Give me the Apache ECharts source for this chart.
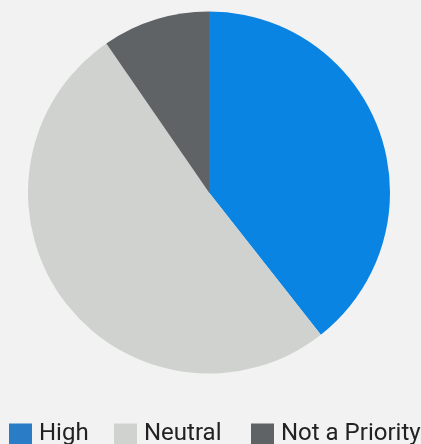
<!DOCTYPE html>
<html>
<head>
<meta charset="utf-8">
<style>
	html, body { margin: 0; padding: 0; background: #f2f2f2; }
	#chart { width: 421px; height: 444px; }
</style>
<script src="https://cdn.jsdelivr.net/npm/echarts@6/dist/echarts.min.js"></script>
</head>
<body>
<div id="chart"></div>
<script>
var categories = ['High', 'Neutral', 'Not a Priority'];
var values = [39.4, 51.0, 9.6];
var sliceColors = ['#0984e3', '#d0d2d0', '#5f6366'];
var legendColors = ['#2b7cc6', '#d0d2d0', '#5f6366'];
var legendLefts = [9, 114, 251];

var myChart = echarts.init(document.getElementById('chart'));

var data = [];
var legends = [];
for (var i = 0; i < categories.length; i++) {
	data.push({
		name: categories[i],
		value: values[i],
		itemStyle: { color: sliceColors[i] }
	});
	// one legend per item so the uneven spacing of the original can be kept
	legends.push({
		data: [{
			name: categories[i],
			icon: 'rect',
			itemStyle: { color: legendColors[i] }
		}],
		left: legendLefts[i],
		top: 422,
		padding: 0,
		itemWidth: 23,
		itemHeight: 21,
		textStyle: {
			fontFamily: 'Roboto',
			fontSize: 24,
			color: '#222222',
			padding: [0, 0, 0, 2]
		}
	});
}

var option = {
	backgroundColor: '#f2f2f2',
	animation: false,
	legend: legends,
	series: [{
		type: 'pie',
		center: [209, 192.5],
		radius: [0, 181],
		startAngle: 90,
		clockwise: true,
		label: { show: false },
		labelLine: { show: false },
		itemStyle: { borderWidth: 0 },
		emphasis: { disabled: true },
		data: data
	}]
};
myChart.setOption(option);
</script>
</body>
</html>
